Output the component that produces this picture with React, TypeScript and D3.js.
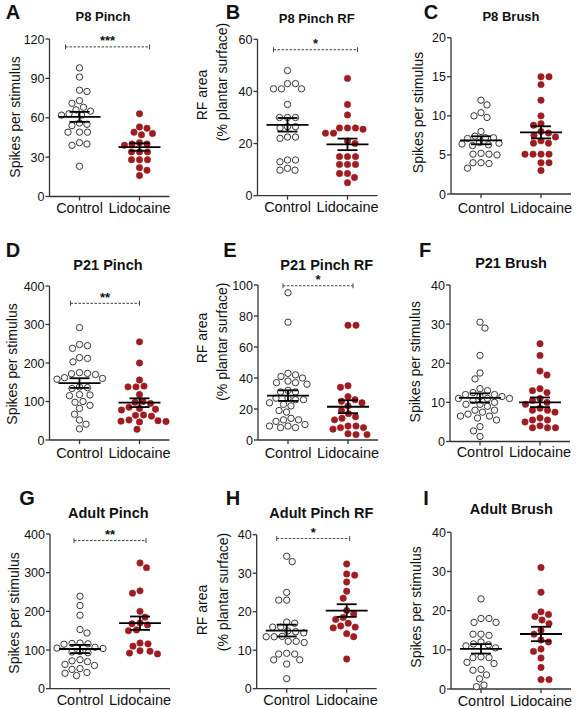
import React from "react";
import * as d3 from "d3";

const groups = ["Control", "Lidocaine"];

// ---- data ----
const aControl = [98, 91, 81, 80, 73, 71, 68, 66, 65, 63, 62, 62, 56, 55, 54, 49, 49, 49, 41, 40, 39, 23];
const aLido = [63, 53, 52, 49, 48, 47, 41, 40, 40, 39, 34, 34, 34, 28, 28, 28, 22, 20, 16];
const bControl = [48, 43, 43, 41, 41, 41, 35, 30, 30, 30, 26.5, 26.5, 26, 22.5, 22.5, 22, 13.7, 13.7, 13, 10.5, 9.8, 9.8];
const bLido = [45, 35, 31, 26, 26, 26, 25.5, 24, 24, 21, 20, 15, 15, 15, 12, 12, 12, 8.5, 8.5, 7, 5];
const cControl = [12, 11.4, 10.4, 9.8, 10, 8, 7.4, 7.2, 7.1, 7.2, 6.5, 6.4, 6.3, 6.2, 6.6, 5.1, 5.2, 5.0, 5.1, 4.0, 4.0, 3.9, 3.3];
const cLido = [15, 15, 14, 12, 10, 9, 8.8, 8, 7.8, 7.5, 7.3, 6.8, 6.5, 6.5, 5.1, 5.1, 5.1, 5.1, 4, 4, 3];
const dControl = [292, 248, 245, 238, 214, 212, 203, 175, 173, 172, 170, 160, 162, 158, 138, 136, 134, 118, 117, 115, 100, 98, 90, 82, 67, 52, 41, 29];
const dLido = [255, 200, 156, 140, 138, 138, 118, 100, 98, 95, 85, 82, 80, 78, 65, 64, 62, 52, 50, 49, 48, 47, 28];
const eControl = [95, 76, 43, 42, 41, 40, 38, 37, 37, 36, 32, 31, 31, 27, 27, 26, 26, 24, 23, 22, 19, 18, 14, 13, 13, 12, 10, 9, 9, 8, 8];
const eLido = [74, 74, 35, 34, 28, 26, 25, 24, 22, 19, 17, 15, 14, 13, 9, 9, 8, 8, 7, 4, 3.5, 3.5];
const fControl = [30.5, 29, 22, 17.5, 16, 13.5, 13, 12.5, 12, 12, 11.5, 11, 11.5, 11, 11, 10.5, 10, 9.5, 9.5, 9, 8, 8, 7.5, 7, 6.5, 6.5, 6, 5.5, 3.8, 2.7, 1.3];
const fLido = [25, 22, 18, 17, 13.5, 13, 12.5, 11, 10.5, 10, 9.5, 8.5, 8, 8, 7.5, 6, 5.5, 5.5, 5, 4, 3.5, 3.5, 3.5];
const gControl = [239, 215, 190, 153, 144, 118, 117, 116, 115, 107, 105, 104, 96, 95, 93, 75, 72, 70, 63, 60, 52, 50, 42, 40, 34];
const gLido = [325, 313, 253, 247, 200, 185, 170, 168, 165, 152, 150, 118, 116, 110, 98, 97, 92, 90];
const hControl = [34.4, 33, 25, 23, 23, 17.3, 17, 16, 16, 15, 14.8, 14.5, 13.6, 13.5, 13.5, 12.3, 12.3, 12, 9.2, 9, 9, 7.5, 7.5, 6.4, 2.6];
const hLido = [32.4, 29.8, 29.5, 27.7, 25.3, 23.5, 20.3, 19.5, 18.5, 18, 17, 16.3, 16, 15.8, 14.3, 13.5, 7.7];
const iControl = [23, 18, 18, 17, 17, 14, 14, 13.7, 12, 11.5, 11.3, 11, 10.5, 8.2, 8, 8, 6.8, 6.5, 5, 4.8, 3.6, 2.6, 0.6, 1.0];
const iLido = [31, 24.7, 19.7, 19, 18.5, 17.6, 16.7, 15, 14, 12.5, 12, 10.2, 9.6, 7.9, 5.5, 2.4, 2.4];

const controlSeries = [aControl, bControl, cControl, dControl, eControl, fControl, gControl, hControl, iControl];
const lidoSeries = [aLido, bLido, cLido, dLido, eLido, fLido, gLido, hLido, iLido];

const panelLetters = ["A", "B", "C", "D", "E", "F", "G", "H", "I"];
const panelTitles = ["P8 Pinch", "P8 Pinch RF", "P8 Brush", "P21 Pinch", "P21 Pinch RF", "P21 Brush", "Adult Pinch", "Adult Pinch RF", "Adult Brush"];
const yMax = [120, 60, 20, 400, 100, 40, 400, 40, 40];
const tickStep = [30, 20, 5, 100, 20, 10, 100, 10, 10];
const stars = ["***", "*", "", "**", "*", "", "**", "*", ""];
const bracketValue = [114, 56, 0, 355, 99.5, 0, 383, 39, 0];
const spikesLabel = ["Spikes per stimulus"];
const rfLabel = ["RF area", "(% plantar surface)"];
const yLabels = [spikesLabel, rfLabel, spikesLabel, spikesLabel, rfLabel, spikesLabel, spikesLabel, rfLabel, spikesLabel];

// ---- layout ----
const FONT = "'Liberation Sans', Arial, Helvetica, sans-serif";
const AXIS_W = 120;
const layouts = [
  { ax: 49.5, top: 39, bottom: 196.5, lx: 13, ly: 12, tx: 103, ty: 16, ts: 13, yl: [[15, 117]], cy: 207.5, bp: [-14, 10] },
  { ax: 257.5, top: 39.3, bottom: 195.7, lx: 233, ly: 12, tx: 316.7, ty: 18, ts: 13, yl: [[201.7, 95], [221.7, 82]], cy: 206.7, bp: [-14, 10] },
  { ax: 451, top: 37.7, bottom: 194, lx: 431, ly: 12, tx: 511, ty: 16.7, ts: 13, yl: [[418, 112.5]], cy: 207.5, bp: [0, 0] },
  { ax: 49.5, top: 286, bottom: 440, lx: 13, ly: 250, tx: 108, ty: 265, ts: 14.5, yl: [[11.7, 364]], cy: 453, bp: [-9, 0] },
  { ax: 258, top: 285, bottom: 440, lx: 230, ly: 250, tx: 326.7, ty: 265, ts: 14.5, yl: [[201.7, 338], [221.7, 341.7]], cy: 453, bp: [-5, 5] },
  { ax: 450, top: 285, bottom: 441.5, lx: 425, ly: 250, tx: 511, ty: 263, ts: 14.5, yl: [[414.7, 361.7]], cy: 452, bp: [0, 0] },
  { ax: 50, top: 534, bottom: 688.7, lx: 27, ly: 498, tx: 108.3, ty: 513, ts: 14.5, yl: [[14, 613]], cy: 700, bp: [-6, 6] },
  { ax: 256.7, top: 534.7, bottom: 688.7, lx: 233, ly: 498, tx: 321.3, ty: 513, ts: 14.5, yl: [[201.7, 610], [223.3, 592]], cy: 700, bp: [-10, 3] },
  { ax: 451, top: 532.3, bottom: 689, lx: 426, ly: 498, tx: 511.3, ty: 508.7, ts: 14.5, yl: [[416.3, 607]], cy: 700.5, bp: [0, 0] },
];

const R = 3.2;
const MIN_DIST = 7.6;

// beeswarm: each point (top to bottom) takes the free horizontal position closest to the centre
function swarm(values: number[], y: d3.ScaleLinear<number, number>, cx: number) {
  const ys = values.map((v) => y(v)).sort((a, b) => a - b);
  const placed: { x: number; y: number }[] = [];
  let side = 1;
  for (const py of ys) {
    const near = placed.filter((p) => Math.abs(p.y - py) < MIN_DIST);
    let off = 0;
    for (let k = 0; k < 200; k++) {
      const d = k * 0.5;
      const cands = k === 0 ? [0] : [side * d, -side * d];
      const ok = cands.find((c) => near.every((p) => Math.hypot(p.x - c, p.y - py) >= MIN_DIST));
      if (ok !== undefined) {
        off = ok;
        break;
      }
    }
    if (off !== 0) side = off > 0 ? -1 : 1;
    placed.push({ x: off, y: py });
  }
  return placed.map((p) => ({ x: cx + p.x, y: p.y }));
}

function Panel({ i }: { i: number }) {
  const L = layouts[i];
  const y = d3.scaleLinear().domain([0, yMax[i]]).range([L.bottom, L.top]);
  const x = d3.scalePoint<string>().domain(groups).range([L.ax, L.ax + AXIS_W]).padding(0.5);
  const ticks = d3.range(0, yMax[i] + tickStep[i] / 2, tickStep[i]);
  const series = [controlSeries[i], lidoSeries[i]];
  const axisColor = "#333";

  return (
    <g>
      <text x={L.lx} y={L.ly + 7} textAnchor="middle" fontSize={20} fontWeight="bold" fill="#111" fontFamily={FONT}>
        {panelLetters[i]}
      </text>
      <text x={L.tx} y={L.ty + L.ts * 0.36} textAnchor="middle" fontSize={L.ts} fontWeight="bold" fill="#111" fontFamily={FONT}>
        {panelTitles[i]}
      </text>
      {yLabels[i].map((t, k) => (
        <text
          key={k}
          transform={`translate(${L.yl[k][0]},${L.yl[k][1]}) rotate(-90)`}
          textAnchor="middle"
          dy="0.35em"
          fontSize={14}
          fill="#111"
          fontFamily={FONT}
        >
          {t}
        </text>
      ))}
      {/* y axis */}
      <line x1={L.ax} x2={L.ax} y1={L.top} y2={L.bottom} stroke={axisColor} strokeWidth={1.3} />
      {ticks.map((t) => (
        <g key={t}>
          <line x1={L.ax - 4} x2={L.ax} y1={y(t)} y2={y(t)} stroke={axisColor} strokeWidth={1.3} />
          <text x={L.ax - 5} y={y(t)} dy="0.36em" textAnchor="end" fontSize={12.5} fill="#111" fontFamily={FONT}>
            {t}
          </text>
        </g>
      ))}
      {/* x axis */}
      <line x1={L.ax} x2={L.ax + AXIS_W} y1={L.bottom} y2={L.bottom} stroke={axisColor} strokeWidth={1.3} />
      {groups.map((g) => (
        <g key={g}>
          <line x1={x(g)} x2={x(g)} y1={L.bottom} y2={L.bottom + 4} stroke={axisColor} strokeWidth={1.3} />
          <text x={x(g)} y={L.cy + 5} textAnchor="middle" fontSize={14.5} fill="#111" fontFamily={FONT}>
            {g}
          </text>
        </g>
      ))}
      {/* dots */}
      {series.map((vals, gi) =>
        swarm(vals, y, x(groups[gi]) as number).map((p, k) => (
          <circle
            key={`${gi}-${k}`}
            cx={p.x}
            cy={p.y}
            r={R}
            fill={gi === 0 ? "#f7f7f7" : "#9e1c22"}
            stroke={gi === 0 ? "#3a3a3a" : "#9e1c22"}
            strokeWidth={gi === 0 ? 1 : 0.6}
          />
        ))
      )}
      {/* mean +/- SEM */}
      {series.map((vals, gi) => {
        const cx = x(groups[gi]) as number;
        const m = d3.mean(vals) as number;
        const sem = (d3.deviation(vals) as number) / Math.sqrt(vals.length);
        return (
          <g key={`m${gi}`} stroke="#000" strokeWidth={1.8}>
            <line x1={cx - 21} x2={cx + 21} y1={y(m)} y2={y(m)} />
            <line x1={cx} x2={cx} y1={y(m + sem)} y2={y(m - sem)} />
            <line x1={cx - 10} x2={cx + 10} y1={y(m + sem)} y2={y(m + sem)} />
            <line x1={cx - 10} x2={cx + 10} y1={y(m - sem)} y2={y(m - sem)} />
          </g>
        );
      })}
      {/* significance bracket */}
      {stars[i] &&
        (() => {
          const by = y(bracketValue[i]);
          const x1 = (x(groups[0]) as number) + L.bp[0];
          const x2 = (x(groups[1]) as number) + L.bp[1];
          return (
            <g>
              <line x1={x1} x2={x2} y1={by} y2={by} stroke="#444" strokeWidth={1} strokeDasharray="2.5 1.5" />
              <line x1={x1} x2={x1} y1={by - 2.5} y2={by + 2.5} stroke="#444" strokeWidth={1} />
              <line x1={x2} x2={x2} y1={by - 2.5} y2={by + 2.5} stroke="#444" strokeWidth={1} />
              <text x={(x1 + x2) / 2} y={by - 1.5} textAnchor="middle" fontSize={13} fontWeight="bold" fill="#111" fontFamily={FONT}>
                {stars[i]}
              </text>
            </g>
          );
        })()}
    </g>
  );
}

export default function App() {
  return (
    <svg
      width={578}
      height={708}
      viewBox="0 0 578 708"
      style={{ position: "absolute", left: 0, top: 0, display: "block", background: "#fff" }}
    >
      <rect width={578} height={708} fill="#fff" />
      {panelLetters.map((_, i) => (
        <Panel key={i} i={i} />
      ))}
    </svg>
  );
}
